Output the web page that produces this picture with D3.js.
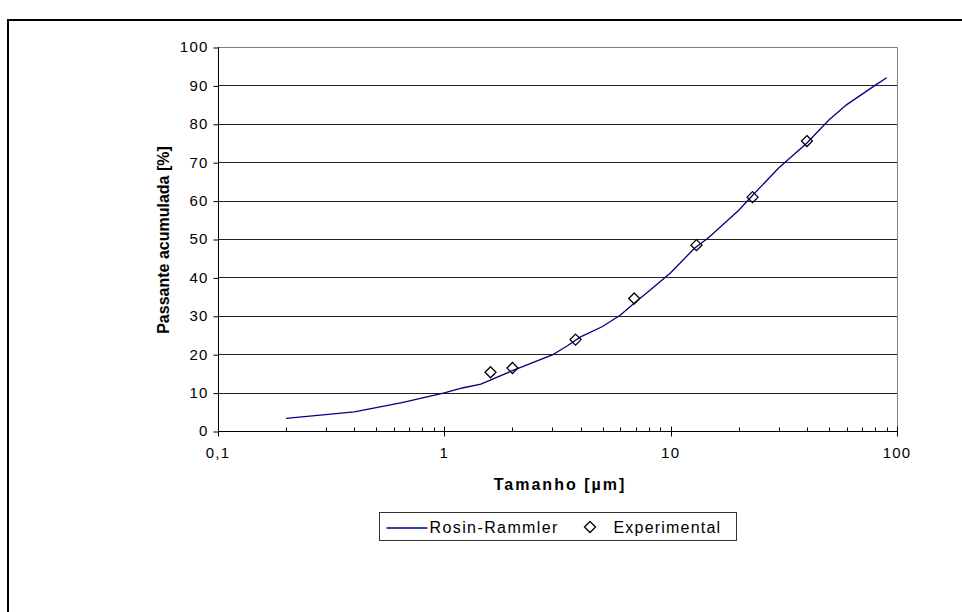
<!DOCTYPE html>
<html lang="pt">
<style>
  body { margin: 0; background: #fff; }
  text { font-family: "Liberation Sans", Arial, sans-serif; }
</style>
<body>
<script src="https://cdn.jsdelivr.net/npm/d3@7"></script>
<div id="chart"></div>
<script>

// Rosin-Rammler curve (tamanho, passante)
var rrSize    = [0.2, 0.4, 0.65, 1.0, 1.2, 1.45, 2.0, 3.0, 3.5, 4.0, 5.0, 6.0, 7.0, 8.0, 10, 12.7, 14.6, 20, 22.7, 30, 40, 50, 60, 80, 90];
var rrPassing = [3.3, 5.0, 7.4, 9.9, 11.2, 12.2, 15.7, 19.8, 22.2, 24.5, 27.2, 30.2, 33.6, 36.4, 41.2, 47.5, 50.2, 57.5, 61, 68.5, 75, 81, 85, 90, 92];

// experimental points
var expSize    = [1.6, 2.0, 3.8, 6.9, 13, 23, 40];
var expPassing = [15.3, 16.4, 23.8, 34.5, 48.4, 60.9, 75.5];

var yTicks = [0, 10, 20, 30, 40, 50, 60, 70, 80, 90, 100];
var xTicks = [0.1, 1, 10, 100];
var xTickLabels = ["0,1", "1", "10", "100"];

var W = 962, H = 612;
var margin = {top: 47, left: 218, right: 65, bottom: 181};
var width = W - margin.left - margin.right,
    height = H - margin.top - margin.bottom;

var svg = d3.select("#chart").append("svg")
    .attr("width", W)
    .attr("height", H);

// outer chart border (runs off the right and bottom)
svg.append("rect")
   .attr("x", 8).attr("y", 20)
   .attr("width", W + 20).attr("height", H + 20)
   .attr("fill", "none")
   .attr("stroke", "#000")
   .attr("stroke-width", 2);

var g = svg.append("g")
    .attr("transform", `translate(${margin.left},${margin.top})`);

var x = d3.scaleLog().domain([0.1, 100]).range([0, width]);
var y = d3.scaleLinear().domain([0, 100]).range([height, 0]);

// horizontal gridlines
g.selectAll(".grid")
 .data(yTicks.filter(function(d){ return d > 0 && d < 100; }))
 .enter().append("line")
 .attr("x1", 0).attr("x2", width)
 .attr("y1", function(d){ return Math.round(y(d)) + 0.5; })
 .attr("y2", function(d){ return Math.round(y(d)) + 0.5; })
 .attr("stroke", "#222");

// plot area border top/right in grey
g.append("path")
 .attr("d", `M0,${Math.round(y(100)) + 0.5}H${Math.round(width) + 0.5}V${Math.round(height)}`)
 .attr("fill", "none")
 .attr("stroke", "#808080");

// y axis
var yAxis = d3.axisLeft(y).tickValues(yTicks).tickSize(5).tickPadding(5);
var ya = g.append("g").attr("transform", "translate(0.5,0)").call(yAxis);
ya.select(".domain").attr("d", `M0,0V${height}`);
ya.selectAll("text")
  .attr("font-size", "15px")
  .attr("letter-spacing", "1.2px")
  .attr("font-family", "Liberation Sans, Arial, sans-serif");
ya.selectAll(".tick line").attr("transform", "translate(0,0.5)");

// x axis: major ticks cross, minor ticks inside
var minor = [];
for (var e = 0.1; e < 100; e *= 10) {
  for (var k = 2; k <= 9; k++) minor.push(e * k);
}
var xa = g.append("g").attr("transform", `translate(0,${Math.round(height) + 0.5})`);
xa.append("line").attr("x1", 0).attr("x2", width).attr("stroke", "#000");
xa.selectAll(".minor").data(minor).enter().append("line")
  .attr("x1", function(d){ return Math.round(x(d)) + 0.5; })
  .attr("x2", function(d){ return Math.round(x(d)) + 0.5; })
  .attr("y1", -4).attr("y2", 0)
  .attr("stroke", "#000");
xa.selectAll(".major").data(xTicks).enter().append("line")
  .attr("x1", function(d){ return Math.round(x(d)) + 0.5; })
  .attr("x2", function(d){ return Math.round(x(d)) + 0.5; })
  .attr("y1", -5).attr("y2", 5)
  .attr("stroke", "#000");
xa.selectAll(".lbl").data(xTicks).enter().append("text")
  .attr("x", function(d){ return x(d); })
  .attr("y", 26)
  .attr("text-anchor", "middle")
  .attr("font-size", "15px")
  .attr("letter-spacing", "1.2px")
  .text(function(d, i){ return xTickLabels[i]; });

// Rosin-Rammler line
var line = d3.line()
  .x(function(d){ return x(d[0]); })
  .y(function(d){ return y(d[1]); });
g.append("path")
 .datum(rrSize.map(function(d, i){ return [d, rrPassing[i]]; }))
 .attr("d", line)
 .attr("fill", "none")
 .attr("stroke", "#000080")
 .attr("stroke-width", 1.3);

// experimental diamonds
var diamond = "M0,-5.5L5.5,0L0,5.5L-5.5,0Z";
g.selectAll(".exp")
 .data(expSize.map(function(d, i){ return [d, expPassing[i]]; }))
 .enter().append("path")
 .attr("transform", function(d){ return `translate(${x(d[0])},${y(d[1])})`; })
 .attr("d", diamond)
 .attr("fill", "none")
 .attr("stroke", "#000")
 .attr("stroke-width", 1.3);

// axis titles
svg.append("text")
   .attr("x", 560)
   .attr("y", 490)
   .attr("text-anchor", "middle")
   .attr("font-size", "16px")
   .attr("font-weight", "bold")
   .attr("letter-spacing", "2px")
   .text("Tamanho [µm]");

svg.append("text")
   .attr("transform", "translate(169,240) rotate(-90)")
   .attr("text-anchor", "middle")
   .attr("font-size", "16px")
   .attr("font-weight", "bold")
   .text("Passante acumulada [%]");

// legend
var lg = svg.append("g").attr("transform", "translate(379.5,512.5)");
lg.append("rect").attr("width", 357).attr("height", 28)
  .attr("fill", "#fff").attr("stroke", "#333");
lg.append("line").attr("x1", 7).attr("x2", 48).attr("y1", 15.5).attr("y2", 15.5)
  .attr("stroke", "#000080").attr("stroke-width", 1.3);
lg.append("text").attr("x", 50).attr("y", 20).attr("font-size", "16px")
  .attr("letter-spacing", "1.4px").text("Rosin-Rammler");
lg.append("path").attr("transform", "translate(210.5,14.5)").attr("d", diamond)
  .attr("fill", "none").attr("stroke", "#000").attr("stroke-width", 1.3);
lg.append("text").attr("x", 234).attr("y", 20).attr("font-size", "16px")
  .attr("letter-spacing", "1.2px").text("Experimental");

</script>
</body>
</html>
